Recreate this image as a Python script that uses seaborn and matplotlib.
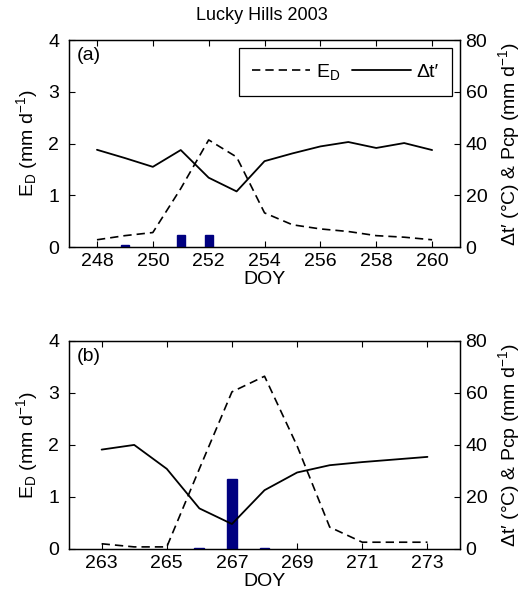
import numpy as np
import matplotlib
matplotlib.use("Agg")
import matplotlib.pyplot as plt
import seaborn as sns
from matplotlib.lines import Line2D

# data
doy_a = [248, 249, 250, 251, 252, 253, 254, 255, 256, 257, 258, 259, 260]
ed_a = [0.14, 0.22, 0.28, 1.13, 2.07, 1.74, 0.66, 0.43, 0.35, 0.30, 0.22, 0.19, 0.14]
dt_a = [37.6, 34.4, 31.0, 37.5, 26.8, 21.5, 33.2, 36.2, 38.9, 40.6, 38.3, 40.2, 37.5]
pcp_doy_a = [249, 251, 252]
pcp_a = [0.6, 4.8, 4.5]

doy_b = [263, 264, 265, 266, 267, 268, 269, 270, 271, 272, 273]
ed_b = [0.10, 0.04, 0.04, 1.54, 3.02, 3.32, 1.98, 0.42, 0.13, 0.13, 0.13]
dt_b = [38.2, 40.0, 30.8, 15.6, 9.6, 22.6, 29.4, 32.2, 33.4, 34.4, 35.4]
pcp_doy_b = [266, 267, 268]
pcp_b = [0.5, 27.0, 0.2]

sns.set_style("ticks")
plt.rcParams["font.family"] = ["Liberation Sans", "DejaVu Sans"]
plt.rcParams["mathtext.fontset"] = "custom"
plt.rcParams["mathtext.rm"] = "Liberation Sans"
plt.rcParams["mathtext.it"] = "Liberation Sans"
plt.rcParams["mathtext.default"] = "regular"
for k in ["text.color", "axes.labelcolor", "xtick.color", "ytick.color", "axes.edgecolor"]:
    plt.rcParams[k] = "black"

FS = 14
bar_color = "#000080"
dash = (0, (5.0, 3.0))

fig = plt.figure(figsize=(5.23, 6.05), dpi=100)


def panel(rect, doy, ed, dt, pdoy, pcp, xlim, xticks, tag, bw):
    ax = fig.add_axes(rect)
    ax2 = ax.twinx()
    sns.lineplot(x=doy, y=ed, ax=ax, color="k", linestyle=dash, lw=1.2, legend=False)
    ax2.bar(pdoy, pcp, width=bw, color=bar_color, edgecolor=bar_color, zorder=1)
    sns.lineplot(x=doy, y=dt, ax=ax2, color="k", lw=1.3, legend=False)
    ax.set_xlim(*xlim)
    ax.set_ylim(0, 4)
    ax2.set_ylim(0, 80)
    ax.set_xticks(xticks)
    ax.set_yticks([0, 1, 2, 3, 4])
    ax2.set_yticks([0, 20, 40, 60, 80])
    ax.tick_params(axis="x", direction="in", length=4, labelsize=FS, top=True,
                   width=0.8, pad=4)
    ax.tick_params(axis="y", direction="in", length=4, labelsize=FS, width=0.8, pad=7)
    ax2.tick_params(axis="y", direction="in", length=4, labelsize=FS, width=0.8, pad=4)
    for a in (ax, ax2):
        for s in a.spines.values():
            s.set_linewidth(0.9)
            s.set_color("k")
    ax.set_xlabel("DOY", fontsize=FS, labelpad=1)
    ax.set_ylabel(r"E$_{D}$ (mm d$^{-1}$)", fontsize=FS, labelpad=6)
    ax2.set_ylabel(r"Δt′ (°C) & Pcp (mm d$^{-1}$)", fontsize=FS, labelpad=6)
    ax.text(0.02, 0.965, tag, transform=ax.transAxes, fontsize=FS, va="top", ha="left")
    return ax, ax2


ax_a, ax2_a = panel([0.132, 0.5917, 0.7476, 0.342], doy_a, ed_a, dt_a, pcp_doy_a, pcp_a,
                    (247, 261), [248, 250, 252, 254, 256, 258, 260], "(a)", 0.28)
ax_b, ax2_b = panel([0.132, 0.0926, 0.7476, 0.344], doy_b, ed_b, dt_b, pcp_doy_b, pcp_b,
                    (262, 274), [263, 265, 267, 269, 271, 273], "(b)", 0.3)

handles = [Line2D([], [], color="k", ls=dash, lw=1.2),
           Line2D([], [], color="k", lw=1.3)]
leg = ax2_a.legend(handles, [r"E$_{D}$", "Δt′"], ncol=2, loc="upper right",
                   bbox_to_anchor=(0.98, 0.96), borderaxespad=0, fontsize=FS,
                   handlelength=3.0, handletextpad=0.3, columnspacing=0.6,
                   borderpad=0.7, fancybox=False, framealpha=1, edgecolor="k")
leg.get_frame().set_linewidth(0.9)

fig.text(0.5, 1 - 15 / 605, "Lucky Hills 2003", ha="center", va="center", fontsize=13)

fig.savefig("out.png", dpi=100)
